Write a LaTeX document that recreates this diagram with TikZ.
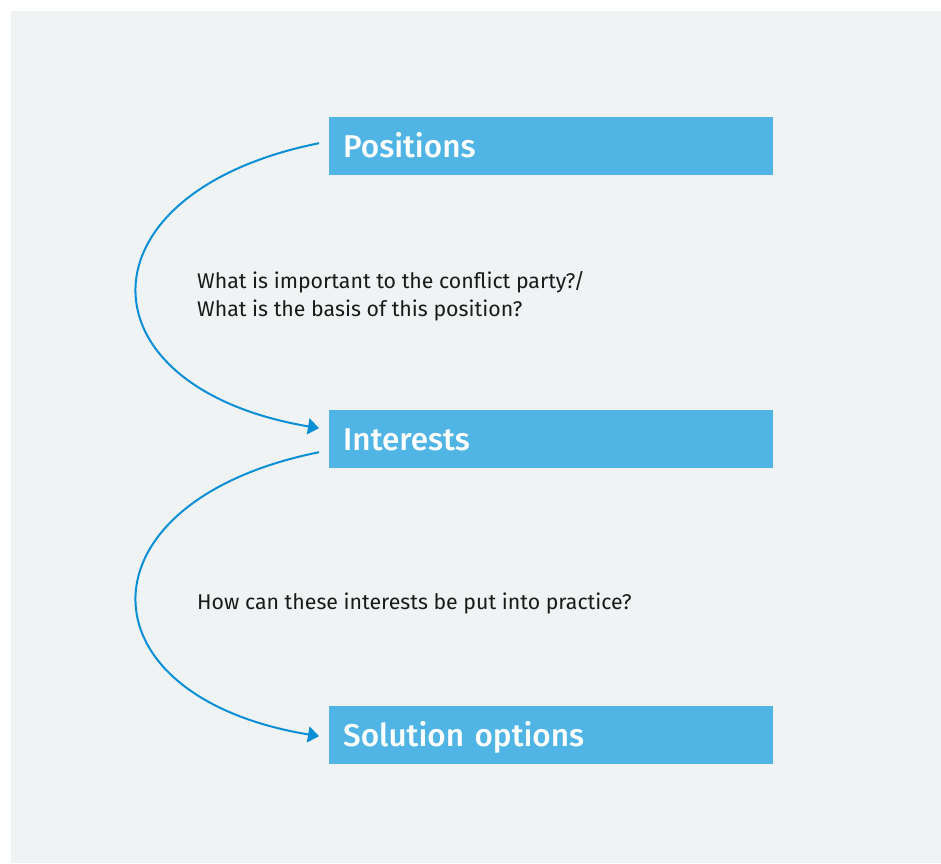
\documentclass[tikz,border=0pt]{standalone}
\usepackage{fontspec}
\setmainfont{Fira Sans}
\newfontfamily\boxfont{Fira Sans Medium}
\usetikzlibrary{arrows.meta,positioning,calc}
\definecolor{bggray}{HTML}{EFF3F4}
\definecolor{boxblue}{HTML}{50B4E4}
\definecolor{arcblue}{HTML}{0A8FD6}
\definecolor{txtdark}{HTML}{1A1A1A}
\tikzset{
  stagebox/.style={fill=boxblue, draw=none, text=white, anchor=north west,
    minimum width=444pt, minimum height=58pt, text width=416pt, inner xsep=14pt,
    inner ysep=0pt, align=left, text height=22.5pt, text depth=0pt,
    font=\boxfont\fontsize{31.5}{36}\selectfont},
  question/.style={anchor=base west, inner sep=0pt, align=left, text=txtdark,
    font=\fontsize{21.3}{28.4}\selectfont},
  flowarc/.style={draw=arcblue, line width=2pt,
    -{Triangle[length=11pt,width=16pt]}}
}
\begin{document}
\begin{tikzpicture}[x=1pt,y=-1pt]
\useasboundingbox (0,0) rectangle (941,863);
\fill[bggray] (11,11) rectangle (941,863);
\node[stagebox] (pos) at (329,117) {Positions};
\node[stagebox] (int) at (329,410) {Interests};
\node[stagebox] (sol) at (329,706) {Solution options};
\coordinate (a1s) at ($(pos.west)+(-10pt,3pt)$);
\coordinate (a1e) at ($(int.west)+(-10pt,11pt)$);
\coordinate (a2s) at ($(int.west)+(-10pt,-13pt)$);
\coordinate (a2e) at ($(sol.west)+(-10pt,-1pt)$);
\draw[flowarc] (a1s) .. controls (76,192) and (76,387) .. (a1e);
\draw[flowarc] (a2s) .. controls (76,501) and (76,696) .. (a2e);
\node[question] (q1) at (197,316.7) {What is important to the conflict party?/\\What is the basis of this position?};
\node[question] (q2) at (197,609) {How can these interests be put into practice?};
\end{tikzpicture}
\end{document}
